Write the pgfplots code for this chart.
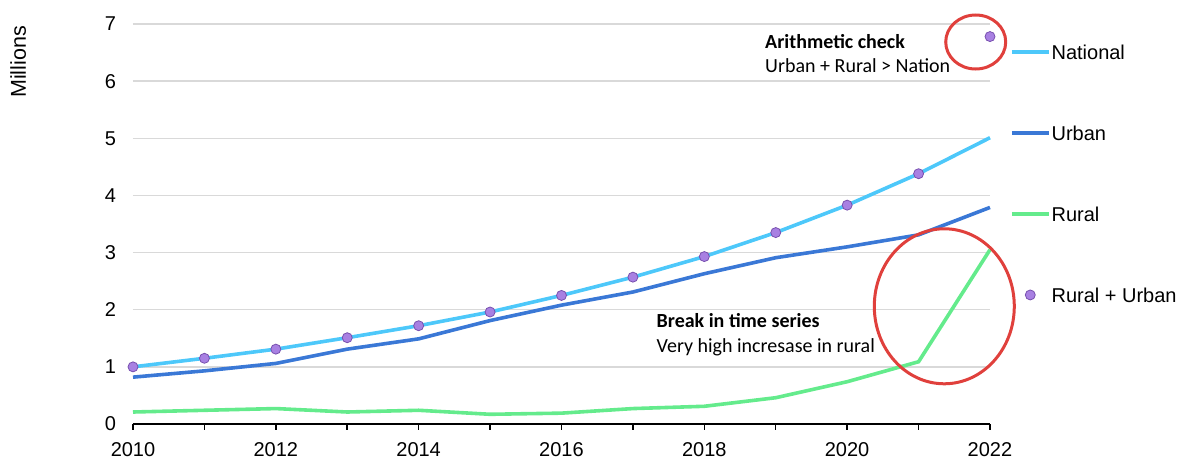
\documentclass[border=0pt]{standalone}
\usepackage{fontspec}
\setmainfont{Liberation Sans}
\newfontfamily\calib{Carlito}
\usepackage{pgfplots}
\pgfplotsset{compat=1.18}
\definecolor{natc}{RGB}{77,200,250}
\definecolor{urbc}{RGB}{58,120,214}
\definecolor{rurc}{RGB}{100,235,140}
\definecolor{dotc}{RGB}{168,128,226}
\definecolor{dotb}{RGB}{120,80,175}
\definecolor{redc}{RGB}{224,64,60}
\definecolor{gridc}{RGB}{217,217,217}
\pgfplotsset{
  linelegend/.style={legend image code/.code={\draw[##1] (0pt,0pt) -- (37pt,0pt);}},
  dotlegend/.style={legend image code/.code={\draw[##1] plot coordinates {(18.5pt,0pt)};}},
}
\begin{document}
\begin{tikzpicture}
\useasboundingbox (0pt,0pt) rectangle (1178pt,459pt);
\begin{axis}[
  at={(133pt,35pt)}, anchor=south west,
  scale only axis, width=857pt, height=400pt,
  xmin=2010, xmax=2022, ymin=0, ymax=7,
  clip=false,
  axis x line*=bottom, axis y line*=left,
  y axis line style={draw=none},
  x axis line style={black, line width=1.5pt, -},
  xtick={2010,...,2022},
  xticklabels={2010,,2012,,2014,,2016,,2018,,2020,,2022},
  ytick={0,...,7},
  tick align=outside,
  major tick length=5.5pt,
  xtick style={black, line width=1.5pt},
  ytick style={draw=none},
  ymajorgrids, grid style={gridc, line width=1.3pt},
  tick label style={font=\fontsize{20}{24}\selectfont},
  xticklabel style={yshift=-9pt},
  yticklabel style={xshift=-8pt},
  /pgf/number format/assume math mode=true,
  /pgf/number format/1000 sep={},
  legend style={at={(1.0233,0.948)}, anchor=north west, draw=none, fill=none,
    inner sep=0pt, outer sep=0pt, row sep=66.7pt, column sep=1pt,
    font=\fontsize{20}{24}\selectfont,
    nodes={inner sep=0pt, text height=14.3pt, text depth=0pt}},
  legend cell align=left,
  linelegend,
]
\addplot[natc, line width=3.6pt] coordinates {
(2010,1.00) (2011,1.15) (2012,1.31) (2013,1.51) (2014,1.72) (2015,1.96) (2016,2.25)
(2017,2.57) (2018,2.93) (2019,3.35) (2020,3.83) (2021,4.38) (2022,5.01)};
\addlegendentry{National}
\addplot[urbc, line width=3.6pt] coordinates {
(2010,0.82) (2011,0.93) (2012,1.06) (2013,1.31) (2014,1.49) (2015,1.81) (2016,2.08)
(2017,2.31) (2018,2.63) (2019,2.91) (2020,3.10) (2021,3.31) (2022,3.79)};
\addlegendentry{Urban}
\addplot[rurc, line width=3.6pt] coordinates {
(2010,0.21) (2011,0.24) (2012,0.27) (2013,0.21) (2014,0.24) (2015,0.17) (2016,0.19)
(2017,0.27) (2018,0.31) (2019,0.46) (2020,0.74) (2021,1.09) (2022,3.05)};
\addlegendentry{Rural}
\addplot[only marks, mark=*, mark size=5pt, mark options={fill=dotc, draw=dotb, line width=0.8pt},
  dotlegend] coordinates {
(2010,1.00) (2011,1.15) (2012,1.31) (2013,1.51) (2014,1.72) (2015,1.96) (2016,2.25)
(2017,2.57) (2018,2.93) (2019,3.35) (2020,3.83) (2021,4.38) (2022,6.78)};
\addlegendentry{Rural + Urban}
\draw[redc, line width=3pt] (axis cs:2021.80,6.685) ellipse [x radius=30pt, y radius=27pt];
\draw[redc, line width=3pt] (axis cs:2021.36,2.06) ellipse [x radius=70pt, y radius=77.5pt];
\node[anchor=base west, inner sep=0pt, font=\calib\bfseries\fontsize{20}{24}\selectfont] at (axis cs:2018.85,6.58) {Arithmetic check};
\node[anchor=base west, inner sep=0pt, font=\calib\fontsize{20}{24}\selectfont] at (axis cs:2018.85,6.15) {Urban + Rural > Nation};
\node[anchor=base west, inner sep=0pt, font=\calib\bfseries\fontsize{20}{24}\selectfont] at (axis cs:2017.33,1.69) {Break in time series};
\node[anchor=base west, inner sep=0pt, font=\calib\fontsize{20}{24}\selectfont] at (axis cs:2017.33,1.255) {Very high incresase in rural};
\node[rotate=90, anchor=east, inner sep=0pt, font=\fontsize{21.5}{25}\selectfont] at (rel axis cs:-0.134,0.995) {Millions};
\end{axis}
\end{tikzpicture}
\end{document}
